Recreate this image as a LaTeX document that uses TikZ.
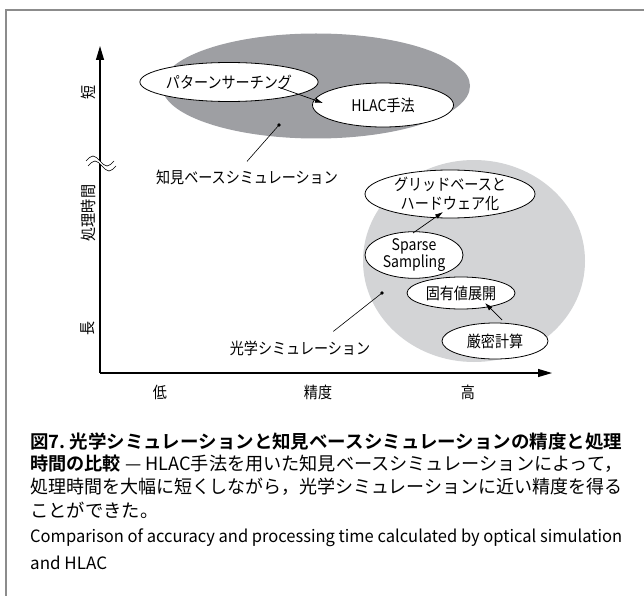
\documentclass[tikz,border=0pt]{standalone}
\usepackage{fontspec}
\usepackage{graphicx}
\usetikzlibrary{shapes.geometric,arrows.meta,calc}
\setmainfont{Noto Sans CJK JP}[FakeStretch=0.88]
\newfontfamily\capfont{Noto Sans CJK JP}
\newfontfamily\capbold{Noto Sans CJK JP Bold}
\definecolor{kbgray}{RGB}{158,159,163}
\definecolor{optgray}{RGB}{211,212,214}
\definecolor{framegray}{RGB}{140,140,140}
\tikzset{
  lab/.style={font=\fontsize{16}{18}\selectfont, inner sep=0pt},
  oval/.style={ellipse, draw=black, line width=0.8pt, fill=white, inner sep=0pt, align=center, font=\fontsize{16}{19}\selectfont},
  ptr/.style={line width=0.7pt, -{Latex[length=8pt,width=5pt]}},
  lead/.style={line width=0.6pt},
  axis/.style={line width=1.1pt, -{Triangle[length=14pt,width=8pt]}},
  capline/.style={anchor=west, inner sep=0pt, font=\capfont\fontsize{18.3}{20}\selectfont}
}
\begin{document}
\begin{tikzpicture}[x=1pt,y=-1pt]
\useasboundingbox (0,0) rectangle (644,596);
% frame
\draw[framegray, line width=1.4pt] (644,10) -- (6,10) -- (6,596);
% regions
\node[ellipse, fill=kbgray, minimum width=308pt, minimum height=105pt, inner sep=0pt] (kb) at (316,86) {};
\node[ellipse, fill=optgray, minimum width=222pt, minimum height=202pt, inner sep=0pt] (opt) at (474,261) {};
% axes
\coordinate (o) at (100,373);
\coordinate (ytip) at (100,46);
\coordinate (xtip) at (552,373);
\draw[axis] (o) -- (ytip);
\draw[axis] (o) -- (xtip);
% wavy break
\fill[white] (86,161) sin (93,156) cos (100,161) sin (107,166) cos (114,161)
  -- (116,166) sin (109,171) cos (102,166) sin (95,161) cos (88,166) -- cycle;
\draw[line width=0.6pt] (86,161) sin (93,156) cos (100,161) sin (107,166) cos (114,161);
\draw[line width=0.6pt] (88,166) sin (95,161) cos (102,166) sin (109,171) cos (116,166);
% axis labels
\node[lab, rotate=90] (short) at (88,92) {短};
\node[lab, rotate=90] (ptime) at (88,213) {処理時間};
\node[lab, rotate=90] (long) at (88,328) {長};
\node[lab] (low) at (160,392) {低};
\node[lab] (acc) at (318,392) {精度};
\node[lab] (high) at (468,392) {高};
% ovals
\node[oval, minimum width=134pt, minimum height=39pt] (pat) at (229,82) {パターンサーチング};
\node[oval, minimum width=141pt, minimum height=44pt] (hlac) at (383,105) {HLAC手法};
\node[oval, minimum width=170pt, minimum height=48pt] (grid) at (450,194) {グリッドベースと\\ハードウェア化};
\node[oval, minimum width=98pt, minimum height=44pt, font=\fontsize{16}{17}\selectfont] (sparse) at (414,255) {Sparse\\Sampling};
\node[oval, minimum width=108pt, minimum height=32pt] (eig) at (461,293) {固有値展開};
\node[oval, minimum width=106pt, minimum height=36pt] (exact) at (495,341) {厳密計算};
% arrows
\draw[ptr] ($(pat.center)+(49,5)$) -- ($(hlac.center)+(-60,-2)$);
\draw[ptr] ($(sparse.center)+(-1,-22)$) -- ($(grid.center)+(-7,18)$);
\draw[ptr] ($(exact.center)+(7,-21)$) -- ($(eig.center)+(24,10)$);
% leaders
\coordinate (kbdot) at (279,125);
\coordinate (optdot) at (382,293);
\fill (kbdot) circle (1.8);
\fill (optdot) circle (1.8);
\node[lab] (kblab) at (247,177) {知見ベースシミュレーション};
\node[lab] (optlab) at (300,348) {光学シミュレーション};
\draw[lead] (kbdot) -- ($(kblab.north)+(0,-8)$);
\draw[lead] (optdot) -- ($(optlab.north east)+(-37,-9)$);
% caption
\node[capline] (cap1) at (30,442) {\resizebox{592pt}{\height}{\capbold 図7.\ 光学シミュレーションと知見ベースシミュレーションの精度と処理}};
\node[capline] (cap2) at (30,464) {\resizebox{592pt}{\height}{{\capbold 時間の比較} — HLAC手法を用いた知見ベースシミュレーションによって，}};
\node[capline] (cap3) at (30,487) {\resizebox{592pt}{\height}{処理時間を大幅に短くしながら，光学シミュレーションに近い精度を得る}};
\node[capline] (cap4) at (30,510) {ことができた。};
\node[capline, font=\capfont\fontsize{17}{20}\selectfont] (cap5) at (30,538) {\resizebox{592pt}{\height}{Comparison of accuracy and processing time calculated by optical simulation}};
\node[capline, font=\capfont\fontsize{17}{20}\selectfont] (cap6) at (30,563) {and HLAC};
\end{tikzpicture}
\end{document}
